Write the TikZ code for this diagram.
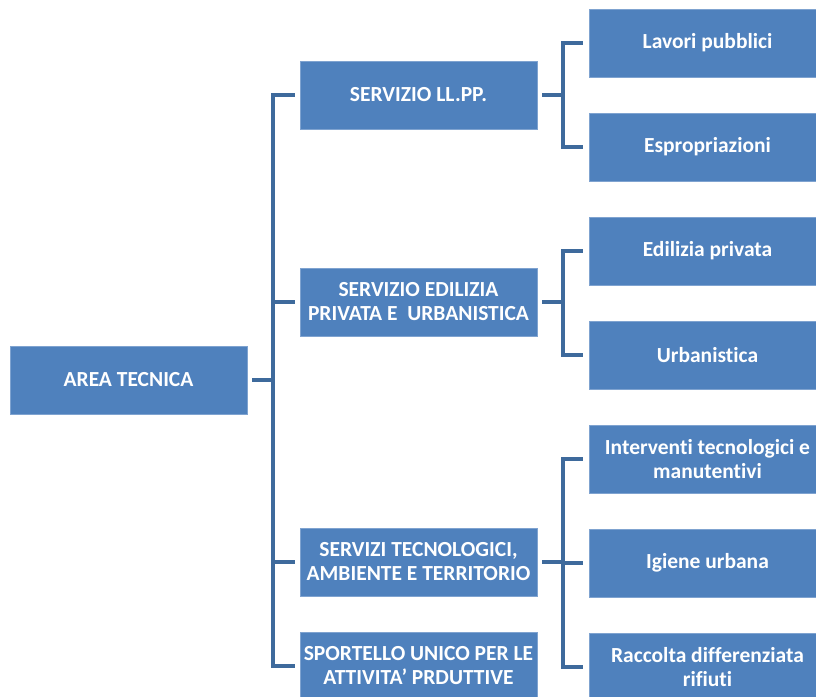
\documentclass[tikz,border=0pt]{standalone}
\usepackage{fontspec}
\setmainfont{Carlito}[Ligatures=NoCommon]
\definecolor{boxblue}{HTML}{4F81BD}
\definecolor{boxedge}{HTML}{7FA3D0}
\definecolor{linkblue}{HTML}{3E6A9C}
\begin{document}
\begin{tikzpicture}[x=1pt, y=-1pt,
  unit/.style={rectangle, fill=boxblue, draw=boxedge, line width=.8pt,
    minimum width=237pt, minimum height=68pt, inner sep=0pt, align=center,
    text=white, font=\fontsize{21.5}{24}\selectfont\bfseries},
  link/.style={line width=4pt, color=linkblue}]
\useasboundingbox (0,0) rectangle (816,696);
\clip (0,0) rectangle (816,696);
% root
\node[unit] (area) at (128.5,380) {AREA TECNICA};
% services
\node[unit] (llpp) at (418.5,95) {SERVIZIO LL.PP.};
\node[unit] (edil) at (418.5,302) {SERVIZIO EDILIZIA\\PRIVATA E~ URBANISTICA};
\node[unit] (tecno) at (418.5,562) {SERVIZI TECNOLOGICI,\\AMBIENTE E TERRITORIO};
\node[unit] (suap) at (418.5,666) {SPORTELLO UNICO PER LE\\ATTIVITA’ PRDUTTIVE};
% offices
\node[unit] (lavori) at (707.5,43) {Lavori pubblici};
\node[unit] (espro) at (707.5,147) {Espropriazioni};
\node[unit] (privata) at (707.5,251) {Edilizia privata};
\node[unit] (urban) at (707.5,355) {Urbanistica};
\node[unit] (interv) at (707.5,459) {Interventi tecnologici e\\manutentivi};
\node[unit] (igiene) at (707.5,563) {Igiene urbana};
\node[unit] (raccolta) at (707.5,667) {Raccolta differenziata\\rifiuti};
% connectors
\foreach \c in {llpp,edil,tecno,suap}
  \draw[link] ([xshift=5pt]area.east) -| ([xshift=-27pt]\c.west) -- ([xshift=-5pt]\c.west);
\foreach \p/\c in {llpp/lavori,llpp/espro,edil/privata,edil/urban,tecno/interv,tecno/igiene,tecno/raccolta}
  \draw[link] ([xshift=5pt]\p.east) -| ([xshift=-26pt]\c.west) -- ([xshift=-6pt]\c.west);
\end{tikzpicture}
\end{document}
